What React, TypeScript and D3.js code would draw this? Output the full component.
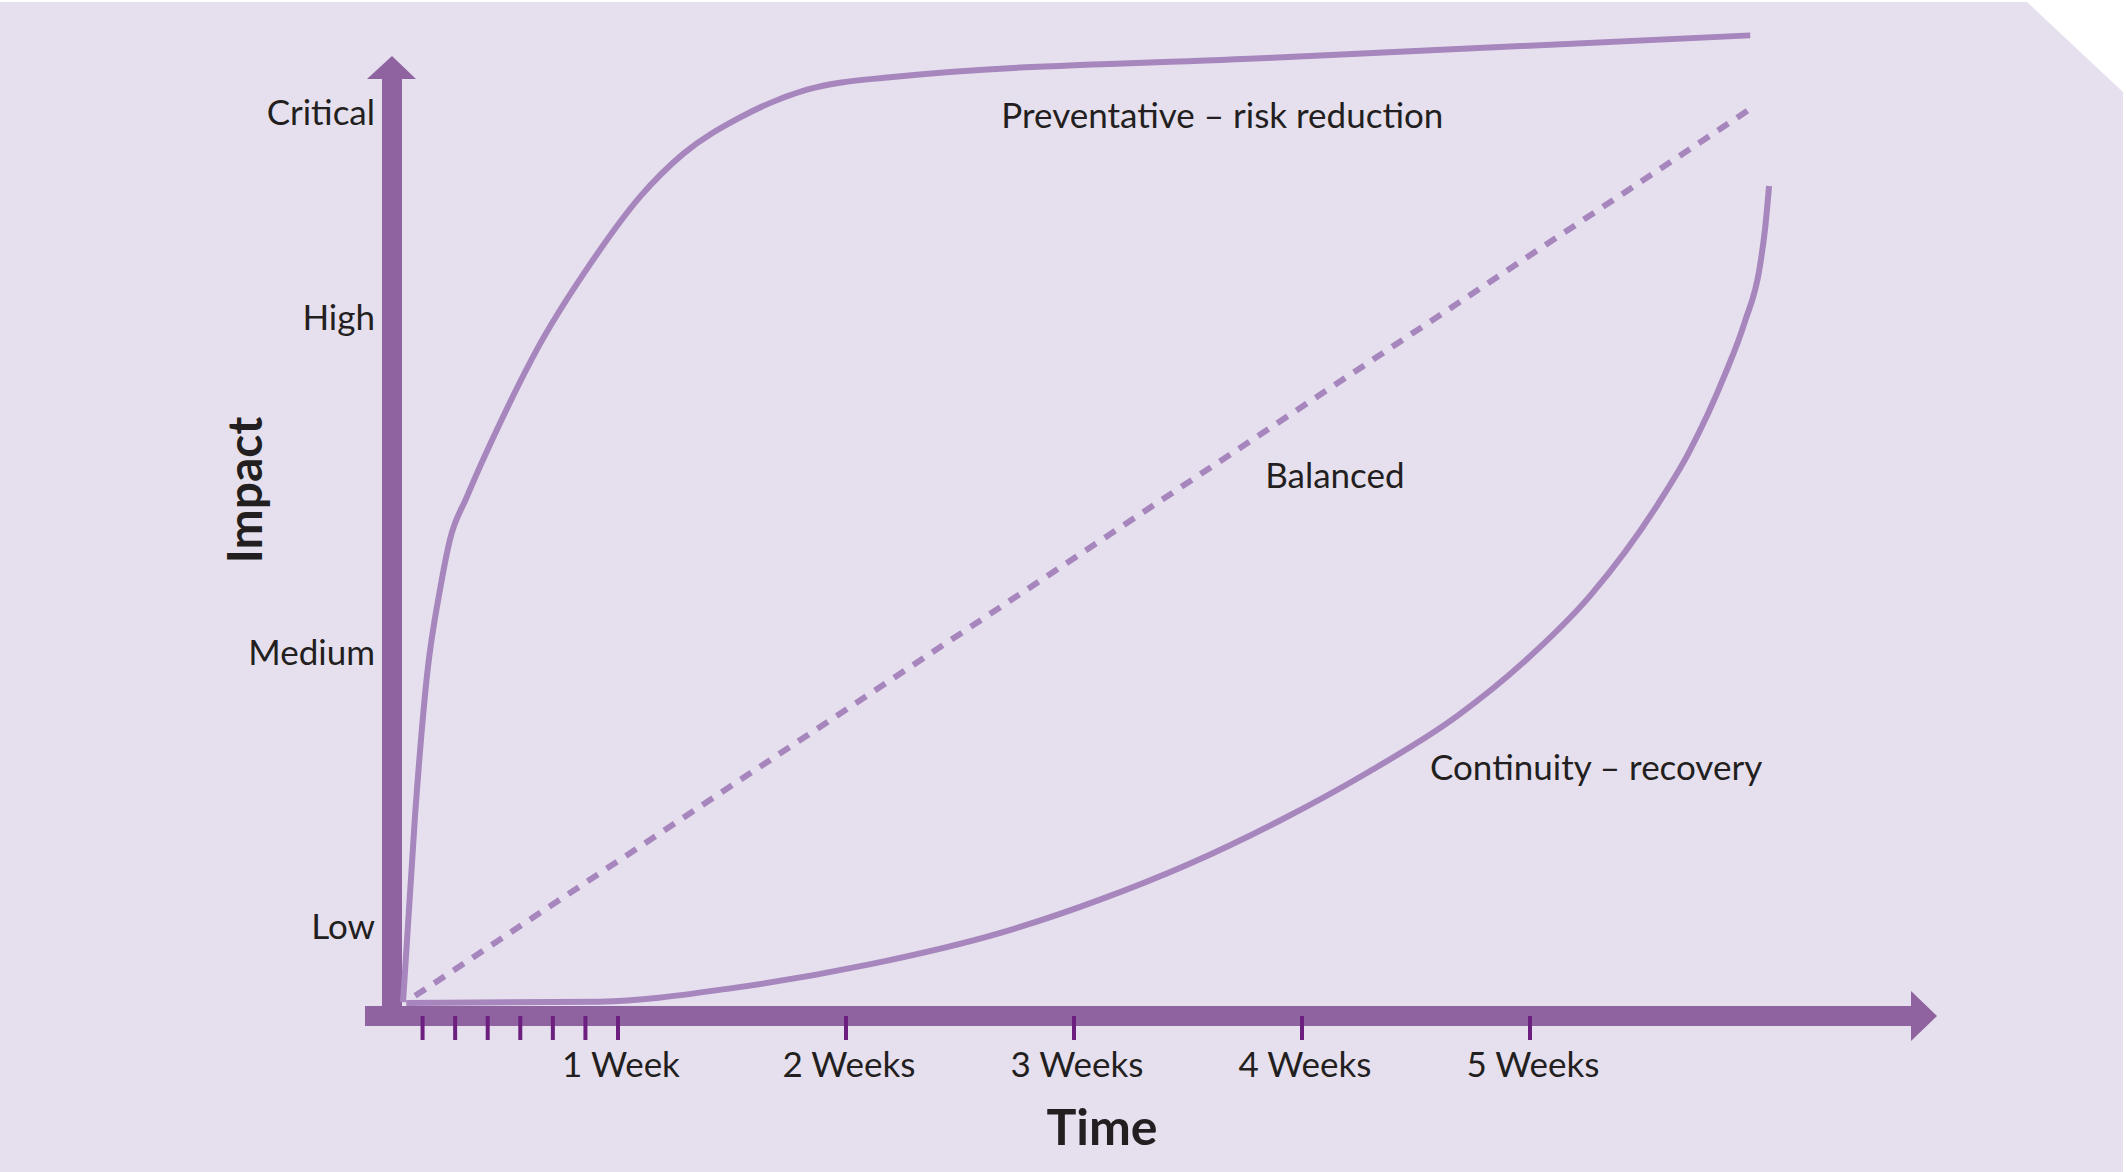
import { curveMonotoneX, line, scaleLinear } from 'd3'

const W = 2126
const H = 1172

// impact levels on the y axis
const impactLevels = ['Low', 'Medium', 'High', 'Critical']
const impactValues = [8.6, 39.4, 76.9, 100]

// time axis (days)
const dayTicks = [1, 2, 3, 4, 5, 6, 7, 14, 21, 28, 35]
const weekTicks = [7, 14, 21, 28, 35]
const weekLabels = ['1 Week', '2 Weeks', '3 Weeks', '4 Weeks', '5 Weeks']

// series: day / impact score
const preventativeDays = [0.4, 0.77, 1.14, 1.54, 1.84, 2.36, 3.38, 4.61, 6.14, 7.68, 9.0, 10.75, 12.8, 15.35, 27.1, 41.76]
const preventativeImpact = [0.1, 21.1, 36.9, 46.5, 52.0, 56.8, 65.1, 74.0, 82.9, 90.5, 95.3, 99.4, 102.5, 103.9, 106.1, 108.6]

const balancedDays = [0.77, 41.87]
const balancedImpact = [0.8, 100.6]

const continuityDays = [0.5, 6.45, 10.56, 14.68, 18.77, 21.8, 24.53, 27.28, 30.03, 32.76, 34.82, 36.87, 38.93, 39.88, 40.97, 41.6, 42.05, 42.22, 42.34]
const continuityImpact = [0, 0.15, 1.7, 4.3, 7.9, 11.6, 15.6, 20.4, 25.9, 32.2, 38.3, 45.8, 56.0, 61.8, 70.4, 76.5, 82.5, 87, 91.7]

const curveLabels = ['Preventative – risk reduction', 'Balanced', 'Continuity – recovery']
const curveLabelDays = [18.77, 26.87, 31.93]
const curveLabelImpact = [98.2, 57.8, 25.0]

const BG = '#e6dfee'
const AXIS = '#8e63a0'
const CURVE = '#a686bd'
const TICK = '#6c1f7f'
const TEXT = '#231f20'
const FONT = 'Lato, "Open Sans", sans-serif'

const zip = (xs: number[], ys: number[]) => xs.map((d, i) => [d, ys[i]] as [number, number])

export default function App() {
    const x = scaleLinear().domain([0, 35]).range([390, 1530])
    const y = scaleLinear().domain([0, 100]).range([1003, 112])

    const path = line<[number, number]>()
        .x(d => x(d[0]))
        .y(d => y(d[1]))
        .curve(curveMonotoneX)

    const axisX = x(0) + 2
    const axisY = y(0) + 13
    const yTop = 79
    const xEnd = 1911

    return (
        <svg width={W} height={H} style={{ position: 'absolute', left: 0, top: 0, display: 'block' }}>
            <rect width={W} height={H} fill="#fff" />
            <polygon points={`0,2 2027,2 2123,92 2123,${H} 0,${H}`} fill={BG} />

            {/* axes */}
            <rect x={axisX - 10} y={yTop} width={20} height={axisY + 10 - yTop} fill={AXIS} />
            <polygon points={`${axisX - 25},${yTop} ${axisX},${yTop - 23} ${axisX + 24},${yTop}`} fill={AXIS} />
            <rect x={365} y={axisY - 10} width={xEnd - 365} height={20} fill={AXIS} />
            <polygon points={`${xEnd},${axisY - 25} ${xEnd + 26},${axisY} ${xEnd},${axisY + 25}`} fill={AXIS} />

            {dayTicks.map(d => (
                <line key={d} x1={x(d)} x2={x(d)} y1={axisY} y2={axisY + 24} stroke={TICK} strokeWidth={4} />
            ))}

            <g fontFamily={FONT} fontSize={35} fill={TEXT}>
                {weekTicks.map((d, i) => (
                    <text key={d} x={x(d) + 3} y={1077} textAnchor="middle">{weekLabels[i]}</text>
                ))}
                {impactLevels.map((l, i) => (
                    <text key={l} x={375} y={y(impactValues[i])} dy="0.36em" textAnchor="end">{l}</text>
                ))}
                {curveLabels.map((l, i) => (
                    <text key={l} x={x(curveLabelDays[i])} y={y(curveLabelImpact[i])}>{l}</text>
                ))}
            </g>

            <text x={1102} y={1145} textAnchor="middle" fontFamily={FONT} fontWeight="bold" fontSize={50} fill={TEXT}>Time</text>
            <text transform="translate(262,490) rotate(-90)" textAnchor="middle" fontFamily={FONT} fontWeight="bold" fontSize={48} fill={TEXT}>Impact</text>

            {/* series */}
            <path d={path(zip(balancedDays, balancedImpact)) || ''} fill="none" stroke={CURVE} strokeWidth={6} strokeDasharray="12.5 10.5" />
            <path d={path(zip(continuityDays, continuityImpact)) || ''} fill="none" stroke={CURVE} strokeWidth={6} />
            <path d={path(zip(preventativeDays, preventativeImpact)) || ''} fill="none" stroke={CURVE} strokeWidth={6} />
        </svg>
    )
}
